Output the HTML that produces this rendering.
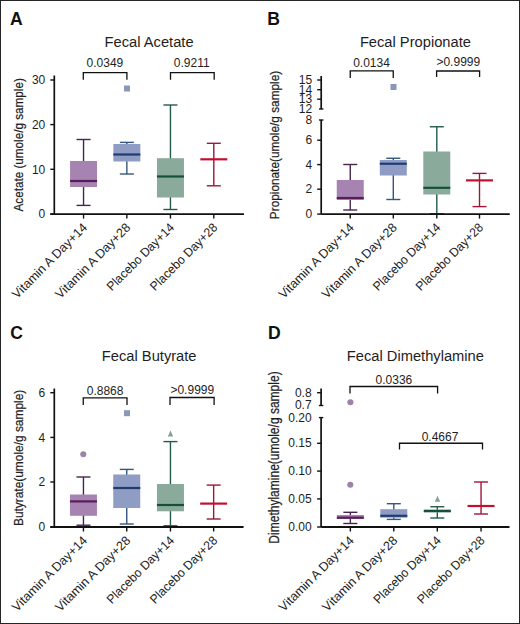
<!DOCTYPE html>
<html><head><meta charset="utf-8"><style>
html,body{margin:0;padding:0;background:#fff;}
.fig{position:relative;width:520px;height:624px;box-sizing:border-box;border:1px solid #252525;overflow:hidden;background:#fff;}
svg{position:absolute;left:-1px;top:-1px;}
text{font-family:"Liberation Sans", sans-serif;}
</style></head><body>
<div class="fig"><svg width="520" height="624" viewBox="0 0 520 624">
<text x="10.0" y="24.7" font-size="17.6" text-anchor="start" font-weight="bold" fill="#111" >A</text>
<text x="149.1" y="46.7" font-size="14.7" text-anchor="middle" font-weight="normal" fill="#1e1e1e" >Fecal Acetate</text>
<line x1="54.3" y1="75.5" x2="54.3" y2="214.1" stroke="#111111" stroke-width="1.7"/>
<line x1="50.3" y1="214.1" x2="54.3" y2="214.1" stroke="#111111" stroke-width="1.4"/>
<text x="45.3" y="218.3" font-size="12" text-anchor="end" font-weight="normal" fill="#1e1e1e" >0</text>
<line x1="50.3" y1="169.3" x2="54.3" y2="169.3" stroke="#111111" stroke-width="1.4"/>
<text x="45.3" y="173.5" font-size="12" text-anchor="end" font-weight="normal" fill="#1e1e1e" >10</text>
<line x1="50.3" y1="124.6" x2="54.3" y2="124.6" stroke="#111111" stroke-width="1.4"/>
<text x="45.3" y="128.8" font-size="12" text-anchor="end" font-weight="normal" fill="#1e1e1e" >20</text>
<line x1="50.3" y1="80" x2="54.3" y2="80" stroke="#111111" stroke-width="1.4"/>
<text x="45.3" y="84.2" font-size="12" text-anchor="end" font-weight="normal" fill="#1e1e1e" >30</text>
<line x1="83.55" y1="139.5" x2="83.55" y2="205.4" stroke="#472450" stroke-width="1.4"/>
<line x1="76.55" y1="139.5" x2="90.55" y2="139.5" stroke="#472450" stroke-width="1.4"/>
<line x1="76.55" y1="205.4" x2="90.55" y2="205.4" stroke="#472450" stroke-width="1.4"/>
<rect x="70.05" y="161" width="27.0" height="26" fill="#a783b2" stroke="none" stroke-width="0"/>
<line x1="70.05" y1="181" x2="97.05" y2="181" stroke="#581c5c" stroke-width="2.2"/>
<line x1="126.85" y1="142.4" x2="126.85" y2="174" stroke="#34567f" stroke-width="1.4"/>
<line x1="119.85" y1="142.4" x2="133.85" y2="142.4" stroke="#34567f" stroke-width="1.4"/>
<line x1="119.85" y1="174" x2="133.85" y2="174" stroke="#34567f" stroke-width="1.4"/>
<rect x="113.35" y="144" width="27.0" height="17.5" fill="#8f9cc4" stroke="none" stroke-width="0"/>
<line x1="113.35" y1="154.5" x2="140.35" y2="154.5" stroke="#1f3d73" stroke-width="2.2"/>
<rect x="124.0" y="85.5" width="6" height="6" fill="#8a97b8" stroke="none" stroke-width="0"/>
<line x1="170.45" y1="105" x2="170.45" y2="209.5" stroke="#245a4a" stroke-width="1.4"/>
<line x1="163.45" y1="105" x2="177.45" y2="105" stroke="#245a4a" stroke-width="1.4"/>
<line x1="163.45" y1="209.5" x2="177.45" y2="209.5" stroke="#245a4a" stroke-width="1.4"/>
<rect x="156.95" y="158.2" width="27.0" height="39.3" fill="#8aaa9b" stroke="none" stroke-width="0"/>
<line x1="156.95" y1="176.5" x2="183.95" y2="176.5" stroke="#15503a" stroke-width="2.2"/>
<line x1="213.8" y1="143.3" x2="213.8" y2="185.8" stroke="#a01539" stroke-width="1.4"/>
<line x1="206.8" y1="143.3" x2="220.8" y2="143.3" stroke="#a01539" stroke-width="1.4"/>
<line x1="206.8" y1="185.8" x2="220.8" y2="185.8" stroke="#a01539" stroke-width="1.4"/>
<line x1="200.3" y1="159.3" x2="227.3" y2="159.3" stroke="#c20f30" stroke-width="2.2"/>
<polyline points="83.3,79.8 83.3,72.7 126.9,72.7 126.9,79.8" fill="none" stroke="#111111" stroke-width="1.3"/>
<text x="104.9" y="66.8" font-size="12" text-anchor="middle" font-weight="normal" fill="#1e1e1e" >0.0349</text>
<polyline points="170.5,79.8 170.5,72.7 214.2,72.7 214.2,79.8" fill="none" stroke="#111111" stroke-width="1.3"/>
<text x="191.7" y="66.8" font-size="12" text-anchor="middle" font-weight="normal" fill="#1e1e1e" >0.9211</text>
<line x1="83.55" y1="214.1" x2="83.55" y2="218.6" stroke="#111111" stroke-width="1.4"/>
<text x="0" y="0" font-size="12.6" text-anchor="end" font-weight="normal" fill="#1e1e1e" textLength="100.4" lengthAdjust="spacingAndGlyphs" transform="translate(88.05,228.3) rotate(-45)">Vitamin A Day+14</text>
<line x1="126.85" y1="214.1" x2="126.85" y2="218.6" stroke="#111111" stroke-width="1.4"/>
<text x="0" y="0" font-size="12.6" text-anchor="end" font-weight="normal" fill="#1e1e1e" textLength="100.4" lengthAdjust="spacingAndGlyphs" transform="translate(131.35,228.3) rotate(-45)">Vitamin A Day+28</text>
<line x1="170.45" y1="214.1" x2="170.45" y2="218.6" stroke="#111111" stroke-width="1.4"/>
<text x="0" y="0" font-size="12.6" text-anchor="end" font-weight="normal" fill="#1e1e1e" textLength="89.4" lengthAdjust="spacingAndGlyphs" transform="translate(174.95,228.3) rotate(-45)">Placebo Day+14</text>
<line x1="213.8" y1="214.1" x2="213.8" y2="218.6" stroke="#111111" stroke-width="1.4"/>
<text x="0" y="0" font-size="12.6" text-anchor="end" font-weight="normal" fill="#1e1e1e" textLength="89.4" lengthAdjust="spacingAndGlyphs" transform="translate(218.3,228.3) rotate(-45)">Placebo Day+28</text>
<text x="0" y="0" font-size="12" text-anchor="middle" font-weight="normal" fill="#1e1e1e" textLength="133.3" lengthAdjust="spacingAndGlyphs" stroke="#1e1e1e" stroke-width="0.22" transform="translate(23.1,144.85) rotate(-90)">Acetate (umole/g sample)</text>
<text x="267.2" y="24.9" font-size="17.6" text-anchor="start" font-weight="bold" fill="#111" >B</text>
<text x="415.4" y="46.7" font-size="14.7" text-anchor="middle" font-weight="normal" fill="#1e1e1e" >Fecal Propionate</text>
<line x1="321.2" y1="76" x2="321.2" y2="109" stroke="#111111" stroke-width="1.7"/>
<line x1="317.2" y1="80" x2="321.2" y2="80" stroke="#111111" stroke-width="1.4"/>
<text x="312.2" y="84.2" font-size="12" text-anchor="end" font-weight="normal" fill="#1e1e1e" >15</text>
<line x1="317.2" y1="89.7" x2="321.2" y2="89.7" stroke="#111111" stroke-width="1.4"/>
<text x="312.2" y="93.9" font-size="12" text-anchor="end" font-weight="normal" fill="#1e1e1e" >14</text>
<line x1="317.2" y1="99.2" x2="321.2" y2="99.2" stroke="#111111" stroke-width="1.4"/>
<text x="312.2" y="103.4" font-size="12" text-anchor="end" font-weight="normal" fill="#1e1e1e" >13</text>
<line x1="319.0" y1="109" x2="323.4" y2="109" stroke="#111111" stroke-width="1.4"/>
<text x="312.2" y="113.2" font-size="12" text-anchor="end" font-weight="normal" fill="#1e1e1e" >12</text>
<line x1="321.2" y1="120" x2="321.2" y2="214.1" stroke="#111111" stroke-width="1.7"/>
<line x1="319.0" y1="120" x2="323.4" y2="120" stroke="#111111" stroke-width="1.4"/>
<text x="312.2" y="124.2" font-size="12" text-anchor="end" font-weight="normal" fill="#1e1e1e" >8</text>
<line x1="317.2" y1="140.2" x2="321.2" y2="140.2" stroke="#111111" stroke-width="1.4"/>
<text x="312.2" y="144.4" font-size="12" text-anchor="end" font-weight="normal" fill="#1e1e1e" >6</text>
<line x1="317.2" y1="164.6" x2="321.2" y2="164.6" stroke="#111111" stroke-width="1.4"/>
<text x="312.2" y="168.8" font-size="12" text-anchor="end" font-weight="normal" fill="#1e1e1e" >4</text>
<line x1="317.2" y1="189.2" x2="321.2" y2="189.2" stroke="#111111" stroke-width="1.4"/>
<text x="312.2" y="193.4" font-size="12" text-anchor="end" font-weight="normal" fill="#1e1e1e" >2</text>
<line x1="317.2" y1="214.1" x2="321.2" y2="214.1" stroke="#111111" stroke-width="1.4"/>
<text x="312.2" y="218.3" font-size="12" text-anchor="end" font-weight="normal" fill="#1e1e1e" >0</text>
<line x1="350.25" y1="164.5" x2="350.25" y2="210" stroke="#472450" stroke-width="1.4"/>
<line x1="343.25" y1="164.5" x2="357.25" y2="164.5" stroke="#472450" stroke-width="1.4"/>
<line x1="343.25" y1="210" x2="357.25" y2="210" stroke="#472450" stroke-width="1.4"/>
<rect x="336.75" y="180" width="27.0" height="20" fill="#a783b2" stroke="none" stroke-width="0"/>
<line x1="336.75" y1="198" x2="363.75" y2="198" stroke="#581c5c" stroke-width="2.2"/>
<line x1="393.3" y1="158.25" x2="393.3" y2="199.5" stroke="#34567f" stroke-width="1.4"/>
<line x1="386.3" y1="158.25" x2="400.3" y2="158.25" stroke="#34567f" stroke-width="1.4"/>
<line x1="386.3" y1="199.5" x2="400.3" y2="199.5" stroke="#34567f" stroke-width="1.4"/>
<rect x="379.8" y="160" width="27.0" height="15.5" fill="#8f9cc4" stroke="none" stroke-width="0"/>
<line x1="379.8" y1="163.75" x2="406.8" y2="163.75" stroke="#1f3d73" stroke-width="2.2"/>
<rect x="390.5" y="84.0" width="6" height="6" fill="#8a97b8" stroke="none" stroke-width="0"/>
<line x1="436.8" y1="126.75" x2="436.8" y2="213.75" stroke="#245a4a" stroke-width="1.4"/>
<line x1="429.8" y1="126.75" x2="443.8" y2="126.75" stroke="#245a4a" stroke-width="1.4"/>
<line x1="429.8" y1="213.75" x2="443.8" y2="213.75" stroke="#245a4a" stroke-width="1.4"/>
<rect x="423.3" y="151.5" width="27.0" height="43.0" fill="#8aaa9b" stroke="none" stroke-width="0"/>
<line x1="423.3" y1="187.8" x2="450.3" y2="187.8" stroke="#15503a" stroke-width="2.2"/>
<line x1="479.5" y1="173.4" x2="479.5" y2="206.6" stroke="#a01539" stroke-width="1.4"/>
<line x1="472.5" y1="173.4" x2="486.5" y2="173.4" stroke="#a01539" stroke-width="1.4"/>
<line x1="472.5" y1="206.6" x2="486.5" y2="206.6" stroke="#a01539" stroke-width="1.4"/>
<line x1="466.0" y1="180.4" x2="493.0" y2="180.4" stroke="#c20f30" stroke-width="2.2"/>
<polyline points="350.25,78 350.25,70.9 393.25,70.9 393.25,78" fill="none" stroke="#111111" stroke-width="1.3"/>
<text x="371.5" y="66.6" font-size="12" text-anchor="middle" font-weight="normal" fill="#1e1e1e" >0.0134</text>
<polyline points="436.6,77 436.6,71 479.6,71 479.6,77" fill="none" stroke="#111111" stroke-width="1.3"/>
<text x="458.3" y="65.6" font-size="12" text-anchor="middle" font-weight="normal" fill="#1e1e1e" >&gt;0.9999</text>
<line x1="350.25" y1="214.1" x2="350.25" y2="218.6" stroke="#111111" stroke-width="1.4"/>
<text x="0" y="0" font-size="12.6" text-anchor="end" font-weight="normal" fill="#1e1e1e" textLength="100.4" lengthAdjust="spacingAndGlyphs" transform="translate(354.75,228.3) rotate(-45)">Vitamin A Day+14</text>
<line x1="393.3" y1="214.1" x2="393.3" y2="218.6" stroke="#111111" stroke-width="1.4"/>
<text x="0" y="0" font-size="12.6" text-anchor="end" font-weight="normal" fill="#1e1e1e" textLength="100.4" lengthAdjust="spacingAndGlyphs" transform="translate(397.8,228.3) rotate(-45)">Vitamin A Day+28</text>
<line x1="436.8" y1="214.1" x2="436.8" y2="218.6" stroke="#111111" stroke-width="1.4"/>
<text x="0" y="0" font-size="12.6" text-anchor="end" font-weight="normal" fill="#1e1e1e" textLength="89.4" lengthAdjust="spacingAndGlyphs" transform="translate(441.3,228.3) rotate(-45)">Placebo Day+14</text>
<line x1="479.5" y1="214.1" x2="479.5" y2="218.6" stroke="#111111" stroke-width="1.4"/>
<text x="0" y="0" font-size="12.6" text-anchor="end" font-weight="normal" fill="#1e1e1e" textLength="89.4" lengthAdjust="spacingAndGlyphs" transform="translate(484.0,228.3) rotate(-45)">Placebo Day+28</text>
<text x="0" y="0" font-size="12.8" text-anchor="middle" font-weight="normal" fill="#1e1e1e" textLength="148.3" lengthAdjust="spacingAndGlyphs" stroke="#1e1e1e" stroke-width="0.22" transform="translate(278.7,145.0) rotate(-90)">Propionate(umole/g sample)</text>
<text x="10.3" y="338.8" font-size="17.6" text-anchor="start" font-weight="bold" fill="#111" >C</text>
<text x="149.2" y="360.6" font-size="14.7" text-anchor="middle" font-weight="normal" fill="#1e1e1e" >Fecal Butyrate</text>
<line x1="54.3" y1="388.5" x2="54.3" y2="527" stroke="#111111" stroke-width="1.7"/>
<line x1="50.3" y1="527" x2="54.3" y2="527" stroke="#111111" stroke-width="1.4"/>
<text x="45.3" y="531.2" font-size="12" text-anchor="end" font-weight="normal" fill="#1e1e1e" >0</text>
<line x1="50.3" y1="482.0" x2="54.3" y2="482.0" stroke="#111111" stroke-width="1.4"/>
<text x="45.3" y="486.2" font-size="12" text-anchor="end" font-weight="normal" fill="#1e1e1e" >2</text>
<line x1="50.3" y1="437.4" x2="54.3" y2="437.4" stroke="#111111" stroke-width="1.4"/>
<text x="45.3" y="441.6" font-size="12" text-anchor="end" font-weight="normal" fill="#1e1e1e" >4</text>
<line x1="50.3" y1="392.7" x2="54.3" y2="392.7" stroke="#111111" stroke-width="1.4"/>
<text x="45.3" y="396.9" font-size="12" text-anchor="end" font-weight="normal" fill="#1e1e1e" >6</text>
<line x1="83.45" y1="477" x2="83.45" y2="525.2" stroke="#472450" stroke-width="1.4"/>
<line x1="76.45" y1="477" x2="90.45" y2="477" stroke="#472450" stroke-width="1.4"/>
<line x1="76.45" y1="525.2" x2="90.45" y2="525.2" stroke="#472450" stroke-width="1.4"/>
<rect x="69.95" y="494.5" width="27.0" height="21.3" fill="#a783b2" stroke="none" stroke-width="0"/>
<line x1="69.95" y1="501.4" x2="96.95" y2="501.4" stroke="#581c5c" stroke-width="2.2"/>
<circle cx="83.3" cy="454.2" r="3.05" fill="#9d82a8"/>
<line x1="126.75" y1="469.4" x2="126.75" y2="524" stroke="#34567f" stroke-width="1.4"/>
<line x1="119.75" y1="469.4" x2="133.75" y2="469.4" stroke="#34567f" stroke-width="1.4"/>
<line x1="119.75" y1="524" x2="133.75" y2="524" stroke="#34567f" stroke-width="1.4"/>
<rect x="113.25" y="474.5" width="27.0" height="33.5" fill="#8f9cc4" stroke="none" stroke-width="0"/>
<line x1="113.25" y1="488" x2="140.25" y2="488" stroke="#1f3d73" stroke-width="2.2"/>
<rect x="124.0" y="410.2" width="6" height="6" fill="#8a97b8" stroke="none" stroke-width="0"/>
<line x1="170.45" y1="441.6" x2="170.45" y2="525.8" stroke="#245a4a" stroke-width="1.4"/>
<line x1="163.45" y1="441.6" x2="177.45" y2="441.6" stroke="#245a4a" stroke-width="1.4"/>
<line x1="163.45" y1="525.8" x2="177.45" y2="525.8" stroke="#245a4a" stroke-width="1.4"/>
<rect x="156.95" y="484" width="27.0" height="27.3" fill="#8aaa9b" stroke="none" stroke-width="0"/>
<line x1="156.95" y1="505" x2="183.95" y2="505" stroke="#15503a" stroke-width="2.2"/>
<polygon points="167.8,436.5 173.2,436.5 170.5,430.5" fill="#86a094"/>
<line x1="213.65" y1="485.1" x2="213.65" y2="519" stroke="#a01539" stroke-width="1.4"/>
<line x1="206.65" y1="485.1" x2="220.65" y2="485.1" stroke="#a01539" stroke-width="1.4"/>
<line x1="206.65" y1="519" x2="220.65" y2="519" stroke="#a01539" stroke-width="1.4"/>
<line x1="200.15" y1="503.6" x2="227.15" y2="503.6" stroke="#c20f30" stroke-width="2.2"/>
<polyline points="83.25,405 83.25,397.8 127,397.8 127,405" fill="none" stroke="#111111" stroke-width="1.3"/>
<text x="105.1" y="394.5" font-size="12" text-anchor="middle" font-weight="normal" fill="#1e1e1e" >0.8868</text>
<polyline points="170,405.1 170,397.5 214.1,397.5 214.1,405.1" fill="none" stroke="#111111" stroke-width="1.3"/>
<text x="192.3" y="393.8" font-size="12" text-anchor="middle" font-weight="normal" fill="#1e1e1e" >&gt;0.9999</text>
<line x1="83.45" y1="527" x2="83.45" y2="531.5" stroke="#111111" stroke-width="1.4"/>
<text x="0" y="0" font-size="12.6" text-anchor="end" font-weight="normal" fill="#1e1e1e" textLength="100.4" lengthAdjust="spacingAndGlyphs" transform="translate(87.95,541.2) rotate(-45)">Vitamin A Day+14</text>
<line x1="126.75" y1="527" x2="126.75" y2="531.5" stroke="#111111" stroke-width="1.4"/>
<text x="0" y="0" font-size="12.6" text-anchor="end" font-weight="normal" fill="#1e1e1e" textLength="100.4" lengthAdjust="spacingAndGlyphs" transform="translate(131.25,541.2) rotate(-45)">Vitamin A Day+28</text>
<line x1="170.45" y1="527" x2="170.45" y2="531.5" stroke="#111111" stroke-width="1.4"/>
<text x="0" y="0" font-size="12.6" text-anchor="end" font-weight="normal" fill="#1e1e1e" textLength="89.4" lengthAdjust="spacingAndGlyphs" transform="translate(174.95,541.2) rotate(-45)">Placebo Day+14</text>
<line x1="213.65" y1="527" x2="213.65" y2="531.5" stroke="#111111" stroke-width="1.4"/>
<text x="0" y="0" font-size="12.6" text-anchor="end" font-weight="normal" fill="#1e1e1e" textLength="89.4" lengthAdjust="spacingAndGlyphs" transform="translate(218.15,541.2) rotate(-45)">Placebo Day+28</text>
<text x="0" y="0" font-size="13.5" text-anchor="middle" font-weight="normal" fill="#1e1e1e" textLength="136.3" lengthAdjust="spacingAndGlyphs" stroke="#1e1e1e" stroke-width="0.22" transform="translate(23,457.9) rotate(-90)">Butyrate(umole/g sample)</text>
<text x="268.0" y="338.8" font-size="17.6" text-anchor="start" font-weight="bold" fill="#111" >D</text>
<text x="415.4" y="361" font-size="14.7" text-anchor="middle" font-weight="normal" fill="#1e1e1e" >Fecal Dimethylamine</text>
<line x1="321.1" y1="388.5" x2="321.1" y2="405.5" stroke="#111111" stroke-width="1.7"/>
<line x1="317.1" y1="392.7" x2="321.1" y2="392.7" stroke="#111111" stroke-width="1.4"/>
<text x="311.6" y="396.7" font-size="12" text-anchor="end" font-weight="normal" fill="#1e1e1e" >0.8</text>
<line x1="318.9" y1="405.5" x2="323.3" y2="405.5" stroke="#111111" stroke-width="1.4"/>
<text x="311.6" y="408.7" font-size="12" text-anchor="end" font-weight="normal" fill="#1e1e1e" >0.7</text>
<line x1="321.1" y1="417.6" x2="321.1" y2="527" stroke="#111111" stroke-width="1.7"/>
<line x1="318.9" y1="417.6" x2="323.3" y2="417.6" stroke="#111111" stroke-width="1.4"/>
<text x="311.6" y="421.5" font-size="12" text-anchor="end" font-weight="normal" fill="#1e1e1e" >0.20</text>
<line x1="317.1" y1="443.3" x2="321.1" y2="443.3" stroke="#111111" stroke-width="1.4"/>
<text x="311.6" y="447.2" font-size="12" text-anchor="end" font-weight="normal" fill="#1e1e1e" >0.15</text>
<line x1="317.1" y1="471.1" x2="321.1" y2="471.1" stroke="#111111" stroke-width="1.4"/>
<text x="311.6" y="475.0" font-size="12" text-anchor="end" font-weight="normal" fill="#1e1e1e" >0.10</text>
<line x1="317.1" y1="498.9" x2="321.1" y2="498.9" stroke="#111111" stroke-width="1.4"/>
<text x="311.6" y="502.8" font-size="12" text-anchor="end" font-weight="normal" fill="#1e1e1e" >0.05</text>
<line x1="317.1" y1="527" x2="321.1" y2="527" stroke="#111111" stroke-width="1.4"/>
<text x="311.6" y="530.9" font-size="12" text-anchor="end" font-weight="normal" fill="#1e1e1e" >0.00</text>
<line x1="350.35" y1="512.3" x2="350.35" y2="523.5" stroke="#472450" stroke-width="1.4"/>
<line x1="343.35" y1="512.3" x2="357.35" y2="512.3" stroke="#472450" stroke-width="1.4"/>
<line x1="343.35" y1="523.5" x2="357.35" y2="523.5" stroke="#472450" stroke-width="1.4"/>
<rect x="336.85" y="515" width="27.0" height="4" fill="#a783b2" stroke="none" stroke-width="0"/>
<line x1="336.85" y1="517.7" x2="363.85" y2="517.7" stroke="#581c5c" stroke-width="2.2"/>
<circle cx="350.4" cy="402.2" r="3.05" fill="#9d82a8"/>
<circle cx="350.3" cy="484.7" r="3.05" fill="#9d82a8"/>
<line x1="393.8" y1="503.7" x2="393.8" y2="519.4" stroke="#34567f" stroke-width="1.4"/>
<line x1="386.8" y1="503.7" x2="400.8" y2="503.7" stroke="#34567f" stroke-width="1.4"/>
<line x1="386.8" y1="519.4" x2="400.8" y2="519.4" stroke="#34567f" stroke-width="1.4"/>
<rect x="380.3" y="509.2" width="27.0" height="8.5" fill="#8f9cc4" stroke="none" stroke-width="0"/>
<line x1="380.3" y1="515.8" x2="407.3" y2="515.8" stroke="#1f3d73" stroke-width="2.2"/>
<line x1="437.3" y1="506.75" x2="437.3" y2="518" stroke="#245a4a" stroke-width="1.4"/>
<line x1="430.3" y1="506.75" x2="444.3" y2="506.75" stroke="#245a4a" stroke-width="1.4"/>
<line x1="430.3" y1="518" x2="444.3" y2="518" stroke="#245a4a" stroke-width="1.4"/>
<rect x="423.8" y="509.5" width="27.0" height="3.0" fill="#8aaa9b" stroke="none" stroke-width="0"/>
<line x1="423.8" y1="511" x2="450.8" y2="511" stroke="#15503a" stroke-width="2.2"/>
<polygon points="434.8,501.7 440.2,501.7 437.5,495.7" fill="#86a094"/>
<line x1="481.05" y1="482" x2="481.05" y2="514" stroke="#a01539" stroke-width="1.4"/>
<line x1="474.05" y1="482" x2="488.05" y2="482" stroke="#a01539" stroke-width="1.4"/>
<line x1="474.05" y1="514" x2="488.05" y2="514" stroke="#a01539" stroke-width="1.4"/>
<line x1="467.55" y1="506" x2="494.55" y2="506" stroke="#c20f30" stroke-width="2.2"/>
<polyline points="350,393.5 350,386.5 437.6,386.5 437.6,393.5" fill="none" stroke="#111111" stroke-width="1.3"/>
<text x="393.9" y="384.2" font-size="12" text-anchor="middle" font-weight="normal" fill="#1e1e1e" >0.0336</text>
<polyline points="399.5,449.4 399.5,443.25 482.5,443.25 482.5,449.4" fill="none" stroke="#111111" stroke-width="1.3"/>
<text x="440" y="440.9" font-size="12" text-anchor="middle" font-weight="normal" fill="#1e1e1e" >0.4667</text>
<line x1="350.35" y1="527" x2="350.35" y2="531.5" stroke="#111111" stroke-width="1.4"/>
<text x="0" y="0" font-size="12.6" text-anchor="end" font-weight="normal" fill="#1e1e1e" textLength="100.4" lengthAdjust="spacingAndGlyphs" transform="translate(354.85,541.2) rotate(-45)">Vitamin A Day+14</text>
<line x1="393.8" y1="527" x2="393.8" y2="531.5" stroke="#111111" stroke-width="1.4"/>
<text x="0" y="0" font-size="12.6" text-anchor="end" font-weight="normal" fill="#1e1e1e" textLength="100.4" lengthAdjust="spacingAndGlyphs" transform="translate(398.3,541.2) rotate(-45)">Vitamin A Day+28</text>
<line x1="437.3" y1="527" x2="437.3" y2="531.5" stroke="#111111" stroke-width="1.4"/>
<text x="0" y="0" font-size="12.6" text-anchor="end" font-weight="normal" fill="#1e1e1e" textLength="89.4" lengthAdjust="spacingAndGlyphs" transform="translate(441.8,541.2) rotate(-45)">Placebo Day+14</text>
<line x1="481.05" y1="527" x2="481.05" y2="531.5" stroke="#111111" stroke-width="1.4"/>
<text x="0" y="0" font-size="12.6" text-anchor="end" font-weight="normal" fill="#1e1e1e" textLength="89.4" lengthAdjust="spacingAndGlyphs" transform="translate(485.55,541.2) rotate(-45)">Placebo Day+28</text>
<text x="0" y="0" font-size="13.8" text-anchor="middle" font-weight="normal" fill="#1e1e1e" textLength="172.3" lengthAdjust="spacingAndGlyphs" stroke="#1e1e1e" stroke-width="0.22" transform="translate(279.3,457.5) rotate(-90)">Dimethylamine(umole/g sample)</text>
<line x1="50.3" y1="214.1" x2="244" y2="214.1" stroke="#111111" stroke-width="1.8"/>
<line x1="321.2" y1="214.1" x2="509.75" y2="214.1" stroke="#111111" stroke-width="1.8"/>
<line x1="50.3" y1="527" x2="243.6" y2="527" stroke="#111111" stroke-width="1.8"/>
<line x1="321.1" y1="527" x2="509.5" y2="527" stroke="#111111" stroke-width="1.8"/>
</svg></div>
</body></html>
